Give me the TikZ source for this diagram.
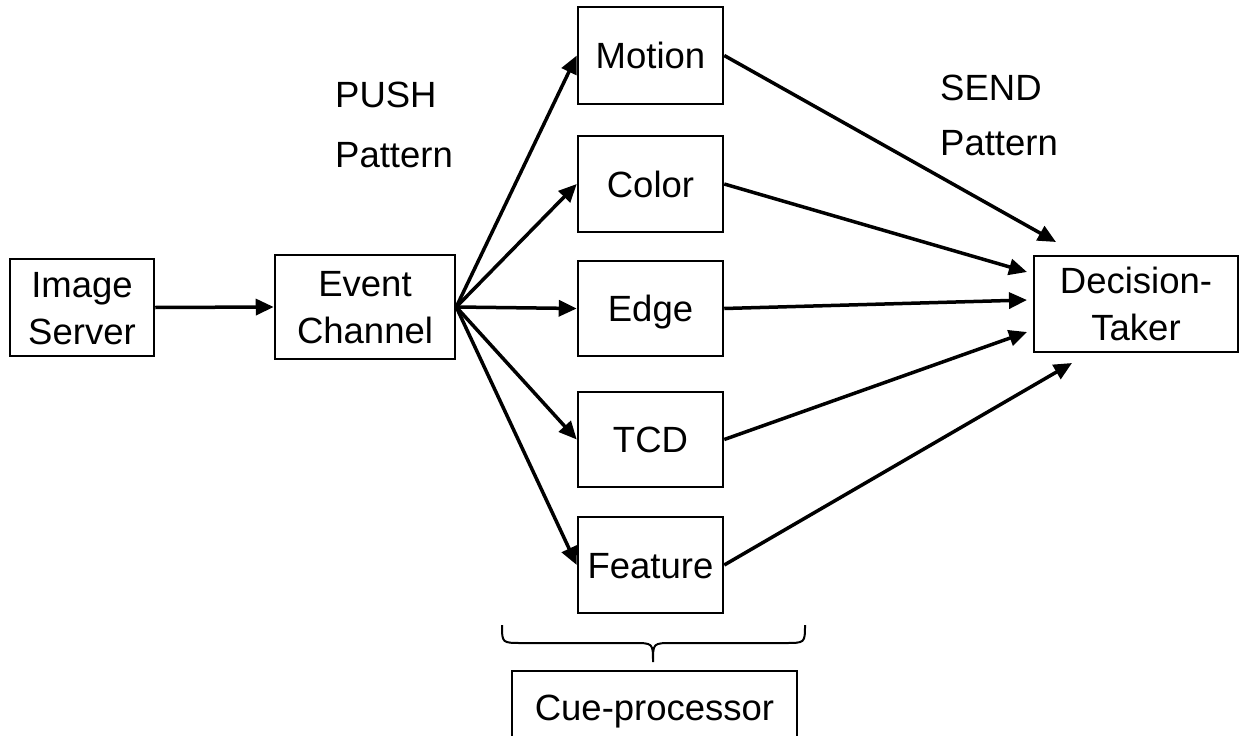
\documentclass[tikz,border=0pt]{standalone}
\usepackage{fontspec}
\setmainfont{Liberation Sans}
\usetikzlibrary{arrows.meta}
\begin{document}
\begin{tikzpicture}[x=1pt,y=-1pt,
  every node/.style={font=\fontsize{36.5}{47}\selectfont},
  box/.style={draw, line width=2.5pt, inner sep=0pt, align=center, text height=26pt, text depth=0pt, anchor=center},
  box2/.style={box, text height=73pt},
  conn/.style={line width=3.5pt, -{Triangle[length=18pt,width=16pt]}},
  lbl/.style={inner sep=0pt, anchor=base west}]
\useasboundingbox (0,0) rectangle (1243,736);
\node[box2, minimum width=144pt, minimum height=97pt] (is) at (82,307.5) {Image\\Server};
\node[box2, minimum width=180pt, minimum height=104pt] (ec) at (365,307) {Event\\Channel};
\node[box, minimum width=145pt, minimum height=97pt] (mo) at (650.5,55.5) {Motion};
\node[box, minimum width=145pt, minimum height=96pt] (co) at (650.5,184) {Color};
\node[box, minimum width=145pt, minimum height=95pt] (ed) at (650.5,308.5) {Edge};
\node[box, minimum width=145pt, minimum height=95pt] (tc) at (650.5,439.5) {TCD};
\node[box, minimum width=145pt, minimum height=96pt] (fe) at (650.5,565) {Feature};
\node[box2, minimum width=204pt, minimum height=96pt] (dt) at (1136,304) {Decision-\\Taker};
\node[box, minimum width=285pt, minimum height=72pt] (cp) at (654.5,707) {Cue-processor};
\node[lbl] (push) at (335,107) {PUSH};
\node[lbl] (pushp) at (335,167) {Pattern};
\node[lbl] (send) at (940,100) {SEND};
\node[lbl] (sendp) at (940,155) {Pattern};
\coordinate (t1) at (1056,242);
\coordinate (t2) at (1027,272);
\coordinate (t3) at (1027,300);
\coordinate (t4) at (1027,332);
\coordinate (t5) at (1072,363);
\draw[conn] (is.east) -- (ec.west);
\foreach \n in {mo,co,ed,tc,fe} \draw[conn] (ec.east) -- (\n.west);
\draw[conn] (mo.east) -- (t1);
\draw[conn] (co.east) -- (t2);
\draw[conn] (ed.east) -- (t3);
\draw[conn] (tc.east) -- (t4);
\draw[conn] (fe.east) -- (t5);
\draw[line width=2pt] (502,625) .. controls (502,643) .. (522,643) -- (633,643) .. controls (653,643) .. (653,662)
  .. controls (653,643) .. (673,643) -- (785,643) .. controls (805,643) .. (805,625);
\end{tikzpicture}
\end{document}
